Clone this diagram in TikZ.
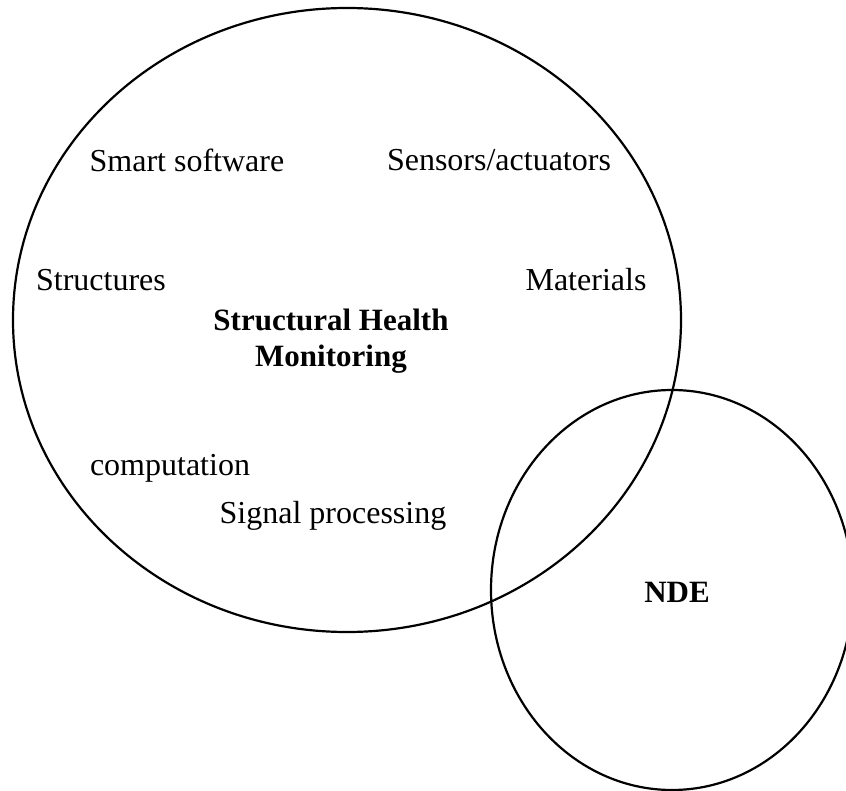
\documentclass[tikz,border=0pt]{standalone}
\usepackage{fontspec}
\setmainfont{Liberation Serif}
\usetikzlibrary{shapes.geometric, positioning}

\tikzset{
  venn/.style={draw, ellipse, line width=1.1pt, inner sep=0pt},
  topic/.style={font=\fontsize{16}{19}\selectfont, inner sep=0pt},
  title/.style={font=\fontsize{15.5}{18}\selectfont\bfseries, align=center, inner sep=0pt}
}

\begin{document}
\begin{tikzpicture}[x=0.5pt, y=-0.5pt]
  \useasboundingbox (0,0) rectangle (846,791);

  % the two sets
  \node[venn, minimum width=334pt, minimum height=312pt] (shm) at (347,320) {};
  \node[venn, minimum width=181pt, minimum height=200pt] (nde) at (672,590) {};

  % fields inside SHM
  \node[topic] (soft) at (187,160) {Smart software};
  \node[topic] (sens) at (499,160) {Sensors/actuators};
  \node[topic] (struc) at (101,280) {Structures};
  \node[topic] (mat) at (586,280) {Materials};
  \node[title] (shmlabel) at (331,341) {Structural Health\\Monitoring};
  \node[topic] (comp) at (170,468) {computation};
  \node[topic] (sig) at (333,516) {Signal processing};

  \node[title] (ndelabel) at (677,592) {NDE};
\end{tikzpicture}
\end{document}
